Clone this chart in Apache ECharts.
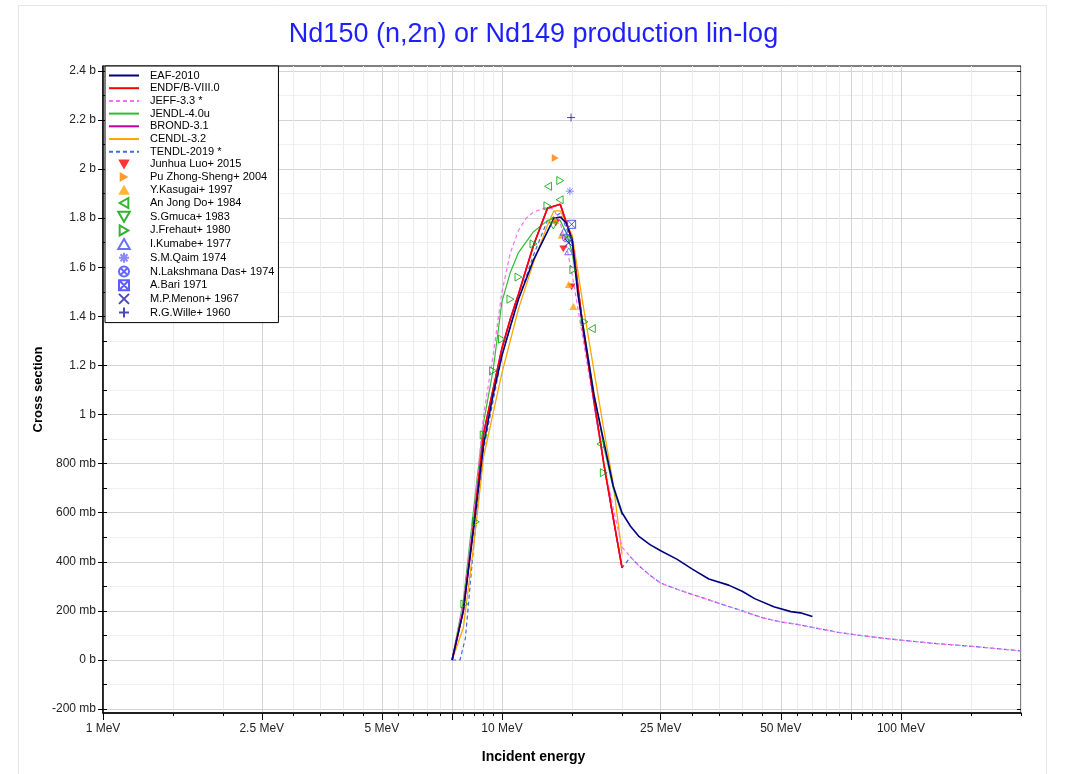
<!DOCTYPE html>
<html><head><meta charset="utf-8">
<script src="https://cdn.jsdelivr.net/npm/echarts@6/dist/echarts.min.js"></script>
<style>html,body{margin:0;padding:0;background:#fff}#c{width:1067px;height:774px}</style>
</head><body><div id="c"></div>
<script>
// ---------- data (energy in MeV, cross section in barns) ----------
const eafE  = [7.5, 8.0, 8.5, 9.0, 9.5, 10, 10.5, 11, 12, 13, 13.5, 14, 14.5, 15, 15.5, 16, 17, 18, 19, 20, 21, 22, 23.5, 25, 27.5, 30, 33, 37, 40, 43, 48, 53, 56, 60];
const eafS  = [0, 0.20, 0.54, 0.88, 1.08, 1.24, 1.36, 1.47, 1.63, 1.745, 1.80, 1.805, 1.78, 1.71, 1.49, 1.35, 1.08, 0.89, 0.71, 0.60, 0.545, 0.505, 0.47, 0.445, 0.41, 0.37, 0.33, 0.305, 0.28, 0.25, 0.217, 0.197, 0.192, 0.177];

const endfE = [7.5, 8, 8.5, 9, 10, 10.5, 11, 12, 13, 14, 15, 16, 17, 18, 19, 20];
const endfS = [0, 0.20, 0.557, 0.924, 1.27, 1.39, 1.49, 1.69, 1.84, 1.857, 1.71, 1.34, 1.06, 0.80, 0.58, 0.375];

const jeffE = [7.5, 8, 8.5, 9, 9.5, 10, 10.5, 11, 11.5, 12, 13, 13.5, 14, 14.5, 15, 16, 17, 18, 19, 20, 21, 22, 23.5, 25, 27.5, 30, 33, 37, 40, 45, 50, 55, 60, 70, 80, 90, 100, 120, 150, 200];
const jeffS = [0, 0.23, 0.60, 1.00, 1.24, 1.50, 1.66, 1.75, 1.80, 1.825, 1.845, 1.835, 1.78, 1.69, 1.57, 1.30, 1.04, 0.80, 0.62, 0.46, 0.42, 0.385, 0.345, 0.313, 0.288, 0.267, 0.245, 0.218, 0.20, 0.172, 0.155, 0.145, 0.133, 0.112, 0.099, 0.089, 0.081, 0.068, 0.056, 0.037];

const jendlE = [7.5, 8, 8.5, 9, 9.5, 10, 10.5, 11, 12, 13, 13.5, 14, 14.5, 15, 16, 17, 18, 19, 20];
const jendlS = [0, 0.24, 0.62, 0.97, 1.18, 1.46, 1.58, 1.66, 1.745, 1.79, 1.80, 1.79, 1.74, 1.66, 1.36, 1.09, 0.87, 0.70, 0.59];

const brondE = [7.5, 8, 8.5, 9, 10, 10.5, 11, 12, 13, 14, 15, 16, 17, 18, 19, 20];
const brondS = [0, 0.20, 0.557, 0.924, 1.27, 1.39, 1.49, 1.69, 1.84, 1.857, 1.71, 1.34, 1.06, 0.80, 0.58, 0.375];

const cendlE = [7.5, 8, 8.5, 9, 10, 11, 12, 13, 13.5, 14, 15, 16, 17, 18, 19, 20];
const cendlS = [0, 0.13, 0.47, 0.83, 1.17, 1.43, 1.62, 1.77, 1.83, 1.83, 1.73, 1.44, 1.18, 0.94, 0.72, 0.43];

const tendlE = [7.5, 7.85, 8.1, 8.5, 9, 10, 11, 12, 13, 14, 15, 16, 17, 18, 19, 20, 21, 22, 23.5, 25, 27.5, 30, 33, 37, 40, 45, 50, 55, 60, 70, 80, 90, 100, 120, 150, 200];
const tendlS = [0, 0, 0.09, 0.47, 0.86, 1.24, 1.47, 1.65, 1.79, 1.82, 1.70, 1.33, 1.05, 0.80, 0.58, 0.375, 0.42, 0.385, 0.345, 0.313, 0.288, 0.267, 0.245, 0.218, 0.20, 0.172, 0.155, 0.145, 0.133, 0.112, 0.099, 0.089, 0.081, 0.068, 0.056, 0.037];

const luoPts      = [[13.65, 1.78], [14.25, 1.675], [14.95, 1.52]];
const puPts       = [[13.6, 2.045]];
const kasugaiPts  = [[13.6, 1.79], [14.1, 1.73], [14.7, 1.53], [15.1, 1.44]];
const anPts       = [[13.05, 1.93], [13.95, 1.875], [16.8, 1.35], [17.65, 0.88]];
const gmucaPts    = [[13.45, 1.77], [14.7, 1.71]];
const frehautPts  = [[8.05, 0.228], [8.6, 0.563], [9.0, 0.917], [9.5, 1.178], [10.0, 1.307], [10.5, 1.47], [11.0, 1.56], [12.0, 1.695], [13.0, 1.85], [14.0, 1.953], [15.1, 1.59], [16.1, 1.378], [18.0, 0.763]];
const kumabePts   = [[14.3, 1.745], [14.7, 1.665]];
const qaimPts     = [[14.8, 1.91]];
const lakshPts    = [[14.5, 1.72]];
const bariPts     = [[14.95, 1.775]];
const menonPts    = [[14.7, 1.70]];
const willePts    = [[14.9, 2.21]];

const minorXTicks = [1,1.5,2,2.5,3,3.5,4,4.5,5,5.5,6,6.5,7,7.5,8,8.5,9,9.5,10,15,20,25,30,35,40,45,50,55,60,65,70,75,80,85,90,95,100,150,200];
const majorXTicks = [1, 2.5, 5, 7.5, 10, 25, 50, 75, 100];
const xLabelVals  = [1, 2.5, 5, 10, 25, 50, 100];
const minorYTicks = [-0.2,-0.1,0,0.1,0.2,0.3,0.4,0.5,0.6,0.7,0.8,0.9,1.0,1.1,1.2,1.3,1.4,1.5,1.6,1.7,1.8,1.9,2.0,2.1,2.2,2.3,2.4];
const majorYTicks = [-0.2,0,0.2,0.4,0.6,0.8,1.0,1.2,1.4,1.6,1.8,2.0,2.2,2.4];

// ---------- build ----------
const L = Math.log10;
const pts = (E, S) => E.map((e, i) => [L(e), S[i]]);
const lpts = P => P.map(p => [L(p[0]), p[1]]);
const xMin = 0, xMax = L(200), yMin = -0.216, yMax = 2.42;
const FONT = 'Liberation Sans, Arial, sans-serif';

function fmtE(v) { return parseFloat(Math.pow(10, v).toPrecision(6)) + ' MeV'; }
function fmtS(v) {
  const r = Math.round(v * 1000) / 1000;
  if (r === 0) return '0 b';
  if (Math.abs(r) < 1) return Math.round(r * 1000) + ' mb';
  return parseFloat(r.toFixed(2)) + ' b';
}

const lines = [
  {name: 'EAF-2010',     E: eafE,   S: eafS,   color: '#000080', w: 1.6, dash: 'solid'},
  {name: 'ENDF/B-VIII.0',E: endfE,  S: endfS,  color: '#ff0000', w: 1.6, dash: 'solid'},
  {name: 'JEFF-3.3 *',   E: jeffE,  S: jeffS,  color: '#ff6cff', w: 1.2, dash: [4, 3]},
  {name: 'JENDL-4.0u',   E: jendlE, S: jendlS, color: '#33bb33', w: 1.2, dash: 'solid'},
  {name: 'BROND-3.1',    E: brondE, S: brondS, color: '#c0009a', w: 1.6, dash: 'solid'},
  {name: 'CENDL-3.2',    E: cendlE, S: cendlS, color: '#ffa500', w: 1.3, dash: 'solid'},
  {name: 'TENDL-2019 *', E: tendlE, S: tendlS, color: '#4169e1', w: 1.2, dash: [4, 3]}
];

const P_DN  = 'path://M0,1L10,1L5,9.66Z';
const P_UP  = 'path://M0,9L10,9L5,0.34Z';
const P_RT  = 'path://M1,0L9.66,5L1,10Z';
const P_LT  = 'path://M9,0L0.34,5L9,10Z';
const P_AST = 'path://M5,0L5,10M0,5L10,5M1.5,1.5L8.5,8.5M8.5,1.5L1.5,8.5';
const P_CX  = 'path://M0,5A5,5 0 1,1 10,5A5,5 0 1,1 0,5ZM1.5,1.5L8.5,8.5M8.5,1.5L1.5,8.5';
const P_SX  = 'path://M0,0L10,0L10,10L0,10ZM0,0L10,10M10,0L0,10';
const P_X   = 'path://M0,0L10,10M10,0L0,10';
const P_PL  = 'path://M5,0L5,10M0,5L10,5';

const scatters = [
  {name: 'Junhua Luo+ 2015',      P: luoPts,     sym: P_DN,  color: '#ff0000', fill: true},
  {name: 'Pu Zhong-Sheng+ 2004',  P: puPts,      sym: P_RT,  color: '#ff7f00', fill: true},
  {name: 'Y.Kasugai+ 1997',       P: kasugaiPts, sym: P_UP,  color: '#ffa500', fill: true},
  {name: 'An Jong Do+ 1984',      P: anPts,      sym: P_LT,  color: '#00a000', fill: false},
  {name: 'S.Gmuca+ 1983',         P: gmucaPts,   sym: P_DN,  color: '#00a000', fill: false},
  {name: 'J.Frehaut+ 1980',       P: frehautPts, sym: P_RT,  color: '#00a000', fill: false},
  {name: 'I.Kumabe+ 1977',        P: kumabePts,  sym: P_UP,  color: '#4b4bff', fill: false},
  {name: 'S.M.Qaim 1974',         P: qaimPts,    sym: P_AST, color: '#6a6aff', fill: false},
  {name: 'N.Lakshmana Das+ 1974', P: lakshPts,   sym: P_CX,  color: '#3f3fff', fill: false},
  {name: 'A.Bari 1971',           P: bariPts,    sym: P_SX,  color: '#3535ff', fill: false},
  {name: 'M.P.Menon+ 1967',       P: menonPts,   sym: P_X,   color: '#1c1ca8', fill: false},
  {name: 'R.G.Wille+ 1960',       P: willePts,   sym: P_PL,  color: '#1c1ca8', fill: false}
];

const series = [];
lines.forEach((l, i) => series.push({
  type: 'line', name: l.name, xAxisIndex: 0, yAxisIndex: 0,
  data: pts(l.E, l.S), symbol: 'none', z: 20 - i, silent: true,
  lineStyle: {color: l.color, width: l.w, type: l.dash},
  itemStyle: {color: l.color}
}));
scatters.forEach(s => series.push({
  type: 'scatter', name: s.name, xAxisIndex: 0, yAxisIndex: 0,
  data: lpts(s.P), symbol: s.sym, symbolSize: 8, symbolKeepAspect: true, z: 30, silent: true,
  itemStyle: s.fill ? {color: s.color} : {color: 'rgba(0,0,0,0)', borderColor: s.color, borderWidth: 1}
}));

const legendData = lines.map(l => ({name: l.name, itemStyle: {opacity: 0}}))
  .concat(scatters.map(s => ({name: s.name})));

const gridPos = {left: 103, top: 66, width: 918, height: 647};
const option = {
  animation: false,
  backgroundColor: '#fff',
  textStyle: {fontFamily: FONT},
  title: [
    {text: 'Nd150 (n,2n) or Nd149 production lin-log', left: 'center', top: 21, padding: 0,
     textStyle: {color: '#1e1eff', fontSize: 27, fontWeight: 'normal', fontFamily: FONT}},
    {text: 'Incident energy', left: 'center', top: 750, padding: 0,
     textStyle: {color: '#000', fontSize: 14, fontWeight: 'bold', fontFamily: FONT}}
  ],
  graphic: [{type: 'rect', z: -10, silent: true, shape: {x: 18.5, y: 5.5, width: 1028, height: 800},
             style: {fill: 'none', stroke: '#e6e6e6', lineWidth: 1}}],
  grid: [
    Object.assign({show: true, borderColor: '#000', borderWidth: 1, backgroundColor: 'transparent'}, gridPos),
    Object.assign({show: false}, gridPos)
  ],
  legend: {
    orient: 'vertical', left: 105, top: 66, padding: [4, 4, 4, 3],
    backgroundColor: '#fff', borderColor: '#000', borderWidth: 1,
    itemWidth: 30, itemHeight: 10, itemGap: 1.7, selectedMode: false,
    textStyle: {fontSize: 11, color: '#000', fontFamily: FONT, padding: [0, 0, 0, 6]},
    data: legendData
  },
  xAxis: [
    {gridIndex: 0, type: 'value', min: xMin, max: xMax, position: 'bottom',
     axisLine: {show: true, onZero: false, lineStyle: {color: '#000', width: 1.5}},
     axisTick: {show: true, customValues: minorXTicks.map(L), length: 3, lineStyle: {color: '#000'}},
     axisLabel: {show: false},
     splitLine: {show: true, lineStyle: {color: '#ececec', width: 1}}},
    {gridIndex: 1, type: 'value', min: xMin, max: xMax, position: 'bottom',
     axisLine: {show: false, onZero: false},
     axisTick: {show: true, customValues: majorXTicks.map(L), length: 7, lineStyle: {color: '#000'}},
     axisLabel: {show: true, customValues: xLabelVals.map(L), formatter: fmtE, fontSize: 12, color: '#222', margin: 10, fontFamily: FONT},
     splitLine: {show: true, lineStyle: {color: '#d3d3d3', width: 1}}}
  ],
  yAxis: [
    {gridIndex: 0, type: 'value', min: yMin, max: yMax, position: 'left',
     axisLine: {show: true, onZero: false, lineStyle: {color: '#000', width: 1.5}},
     axisTick: {show: true, inside: true, customValues: minorYTicks, length: 4, lineStyle: {color: '#000'}},
     axisLabel: {show: false},
     splitLine: {show: true, lineStyle: {color: '#efefef', width: 1}},
     name: 'Cross section', nameLocation: 'middle', nameGap: 58,
     nameTextStyle: {fontWeight: 'bold', fontSize: 13, color: '#000', fontFamily: FONT}},
    {gridIndex: 0, type: 'value', min: yMin, max: yMax, position: 'right',
     axisLine: {show: false, onZero: false},
     axisTick: {show: true, inside: true, customValues: minorYTicks, length: 4, lineStyle: {color: '#000'}},
     axisLabel: {show: false}, splitLine: {show: false}},
    {gridIndex: 1, type: 'value', min: yMin, max: yMax, position: 'left',
     axisLine: {show: false, onZero: false},
     axisTick: {show: true, customValues: majorYTicks, length: 5, lineStyle: {color: '#000'}},
     axisLabel: {show: true, customValues: majorYTicks, formatter: fmtS, fontSize: 12, color: '#222', margin: 7, fontFamily: FONT},
     splitLine: {show: true, lineStyle: {color: '#d3d3d3', width: 1}}}
  ],
  series: series
};
const chart = echarts.init(document.getElementById('c'), null, {renderer: 'canvas'});
chart.setOption(option);
</script>
</body></html>
